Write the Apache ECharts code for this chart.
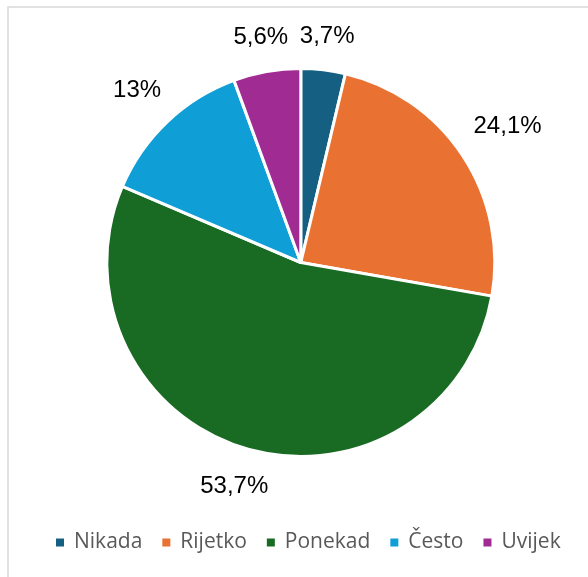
<!DOCTYPE html>
<html>
<head>
<meta charset="utf-8">
<script src="https://cdn.jsdelivr.net/npm/echarts@6/dist/echarts.min.js"></script>
<style>
html,body{margin:0;padding:0;background:#fff;}
#chart{width:588px;height:577px;}
</style>
</head>
<body>
<div id="chart"></div>
<script>
const categories = ['Nikada', 'Rijetko', 'Ponekad', 'Često', 'Uvijek'];
const values = [3.7, 24.1, 53.7, 13, 5.6];
const colors = ['#156082', '#E97132', '#196B24', '#0F9ED5', '#A02B93'];

const CX = 300.8, CY = 262.5, R = 194, LABEL_GAP = 20;
const total = values.reduce((a, b) => a + b, 0);

function midAngle(i) {
  let cum = 0;
  for (let k = 0; k < i; k++) cum += values[k];
  cum += values[i] / 2;
  return cum / total * Math.PI * 2;
}

const chart = echarts.init(document.getElementById('chart'), null, {renderer: 'canvas'});
chart.setOption({
  animation: false,
  backgroundColor: '#ffffff',
  color: colors,
  graphic: [{
    type: 'rect',
    shape: {x: 8, y: 7, width: 900, height: 900},
    style: {fill: 'none', stroke: '#d9d9d9', lineWidth: 1.5},
    silent: true,
    z: -1
  }],
  legend: {
    data: categories,
    left: 49,
    top: 527,
    icon: 'rect',
    itemWidth: 10,
    itemHeight: 10,
    itemGap: 18,
    textStyle: {
      fontFamily: 'Open Sans',
      fontSize: 21,
      color: '#595959',
      padding: [0, 0, 0, 4]
    }
  },
  series: [{
    type: 'pie',
    center: [CX, CY],
    radius: R,
    startAngle: 90,
    clockwise: true,
    avoidLabelOverlap: false,
    itemStyle: {borderColor: '#ffffff', borderWidth: 3},
    label: {
      show: true,
      position: 'inside',
      fontFamily: 'Liberation Sans',
      fontSize: 24,
      color: '#000000',
      formatter: p => String(p.value).replace('.', ',') + '%'
    },
    labelLine: {show: false},
    labelLayout: function (params) {
      const th = midAngle(params.dataIndex);
      const dx = Math.sin(th), dy = -Math.cos(th);
      const w = params.labelRect.width, h = params.labelRect.height;
      const d = (R - 1.5) + LABEL_GAP + Math.abs(dx) * w / 2 + Math.abs(dy) * h / 2;
      return {x: CX + d * dx, y: CY + d * dy, align: 'center', verticalAlign: 'middle'};
    },
    emphasis: {disabled: true},
    data: categories.map((c, i) => ({name: c, value: values[i]}))
  }]
});
</script>
</body>
</html>
